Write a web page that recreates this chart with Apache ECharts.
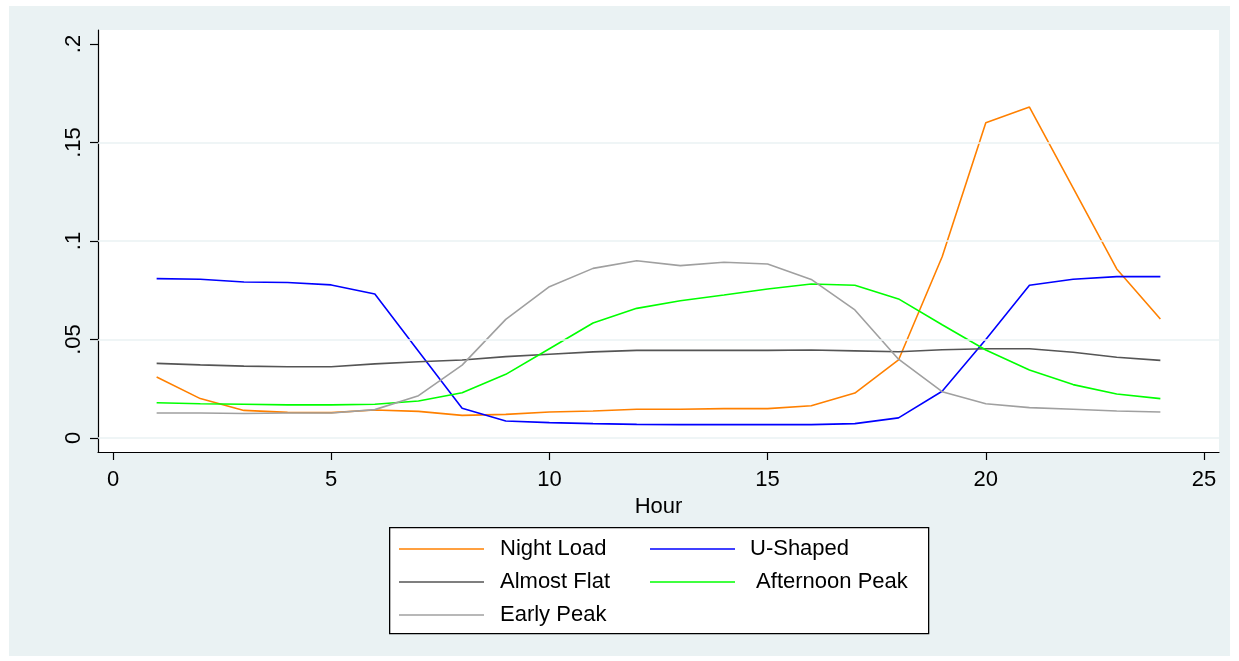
<!DOCTYPE html>
<html>
<head>
<meta charset="utf-8">
<script src="https://cdn.jsdelivr.net/npm/echarts@6/dist/echarts.min.js"></script>
<style>
html,body{margin:0;padding:0;background:#ffffff;}
#bg{position:absolute;left:9px;top:6px;width:1221px;height:650px;background:#EAF2F3;}
#chart{position:absolute;left:0;top:0;width:1239px;height:661px;}
</style>
</head>
<body>
<div id="bg"></div>
<div id="chart"></div>
<script>
const hours = [1,2,3,4,5,6,7,8,9,10,11,12,13,14,15,16,17,18,19,20,21,22,23,24];
const nightLoad = [0.031,0.020,0.0140,0.0130,0.0129,0.0142,0.0135,0.0115,0.0120,0.0132,0.0137,0.0146,0.0146,0.0149,0.0149,0.0164,0.0228,0.0396,0.092,0.160,0.168,0.127,0.0858,0.0604];
const uShaped = [0.0809,0.0806,0.0792,0.0789,0.0777,0.0731,0.0440,0.0151,0.0086,0.0078,0.0073,0.0069,0.0068,0.0068,0.0068,0.0068,0.0073,0.0102,0.0237,0.0500,0.0775,0.0806,0.0819,0.0819];
const almostFlat = [0.0379,0.0371,0.0365,0.0362,0.0362,0.0376,0.0387,0.0396,0.0413,0.0425,0.0437,0.0445,0.0445,0.0445,0.0445,0.0447,0.0442,0.0438,0.0448,0.0453,0.0453,0.0435,0.0410,0.0394];
const afternoonPeak = [0.0179,0.0174,0.0171,0.0168,0.0168,0.0171,0.0188,0.0230,0.0323,0.0453,0.0584,0.0658,0.0697,0.0726,0.0756,0.0782,0.0775,0.0706,0.0575,0.0447,0.0345,0.0271,0.0223,0.0200];
const earlyPeak = [0.0127,0.0127,0.0124,0.0127,0.0127,0.0144,0.0215,0.0370,0.0602,0.0768,0.0861,0.0900,0.0875,0.0892,0.0883,0.0805,0.0650,0.0400,0.0235,0.0174,0.0154,0.0146,0.0137,0.0132];
const xTickValues = [0,5,10,15,20,25];
const yTickValues = [0,0.05,0.1,0.15,0.2];
const yTickLabels = ['0','.05','.1','.15','.2'];
const yGridValues = [0,0.05,0.1,0.15];

const FONT = 'Arial, "Liberation Sans", sans-serif';
const pairs = arr => arr.map((v,i) => [hours[i], v]);
const mkSeries = (name, arr, color) => ({
  name, type:'line', data: pairs(arr), symbol:'none', showSymbol:false,
  lineStyle:{color, width:1.6}, itemStyle:{color}, z:3, animation:false
});

const chart = echarts.init(document.getElementById('chart'), null, {renderer:'canvas'});
chart.setOption({
  backgroundColor:'transparent',
  animation:false,
  grid:{left:98, right:20, top:30, bottom:209, show:true, backgroundColor:'#ffffff', borderWidth:0, containLabel:false},
  xAxis:{
    type:'value', min:-0.3437, max:25.3437,
    name:'Hour', nameLocation:'middle', nameGap:35,
    nameTextStyle:{fontFamily:FONT, fontSize:22, color:'#000', lineHeight:22},
    axisLine:{onZero:false, lineStyle:{color:'#000', width:1.2}},
    axisTick:{show:true, length:8, lineStyle:{color:'#000', width:1.2}, customValues:xTickValues},
    axisLabel:{fontFamily:FONT, fontSize:22, color:'#000', margin:17, lineHeight:22, customValues:xTickValues},
    splitLine:{show:false}
  },
  yAxis:{
    type:'value', min:-0.00711, max:0.2071,
    axisLine:{onZero:false, lineStyle:{color:'#000', width:1.2}},
    axisTick:{show:true, length:8, lineStyle:{color:'#000', width:1.2}, customValues:yTickValues},
    axisLabel:{fontFamily:FONT, fontSize:22, color:'#000', margin:13, rotate:90, lineHeight:22,
      customValues:yTickValues,
      formatter: v => { let b=0, d=1e9; yTickValues.forEach((t,i)=>{ if(Math.abs(t-v)<d){d=Math.abs(t-v); b=i;} }); return yTickLabels[b]; }},
    splitLine:{show:false}
  },
  legend:[
    {data:['Night Load','Almost Flat','Early Peak'], orient:'vertical', left:399, top:538, padding:0,
     itemWidth:85, itemHeight:14, itemGap:11, icon:'path://M0,6.5 L85,6.5 L85,7.8 L0,7.8 Z', selectedMode:false,
     textStyle:{fontFamily:FONT, fontSize:22, color:'#000', lineHeight:22, padding:[0,0,0,11]}},
    {data:['U-Shaped','Afternoon Peak'], orient:'vertical', left:650, top:538, padding:0,
     itemWidth:85, itemHeight:14, itemGap:11, icon:'path://M0,6.5 L85,6.5 L85,7.8 L0,7.8 Z', selectedMode:false,
     formatter: n => n === 'Afternoon Peak' ? ' ' + n : n,
     textStyle:{fontFamily:FONT, fontSize:22, color:'#000', lineHeight:22, padding:[0,0,0,10]}}
  ],
  graphic:[
    {type:'rect', left:389, top:527, shape:{width:539, height:106}, style:{fill:'#ffffff', stroke:'#000', lineWidth:1.3}, z:1}
  ],
  series:[
    {name:'grid', type:'line', data:[], silent:true, z:1,
     markLine:{silent:true, symbol:'none', label:{show:false},
       lineStyle:{color:'#EAF2F3', width:1.5, type:'solid'},
       data: yGridValues.map(v => ({yAxis:v}))}},
    mkSeries('Night Load', nightLoad, '#FF8000'),
    mkSeries('U-Shaped', uShaped, '#0000FF'),
    mkSeries('Almost Flat', almostFlat, '#555555'),
    mkSeries('Afternoon Peak', afternoonPeak, '#00FF00'),
    mkSeries('Early Peak', earlyPeak, '#A0A0A0')
  ]
});
</script>
</body>
</html>
